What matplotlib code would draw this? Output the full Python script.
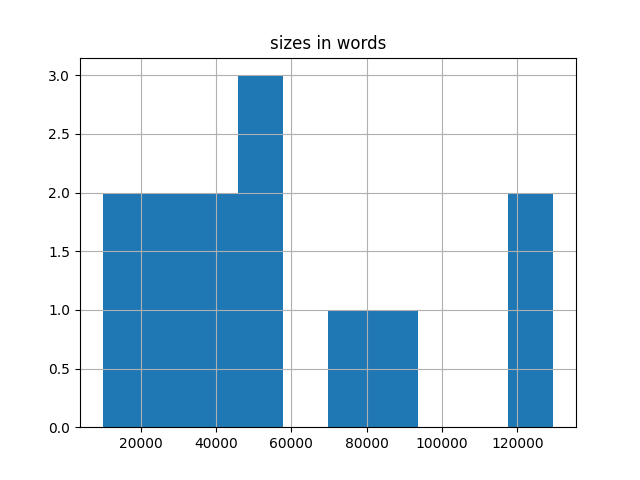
import pandas as pd
import matplotlib
matplotlib.use("Agg")
import matplotlib.pyplot as plt

# word counts per document
sizes = [9900, 15000, 25000, 30000, 38000, 42000, 47000, 50000, 55000,
         75000, 88000, 125000, 129600]

s = pd.Series(sizes, name="sizes")

fig, ax = plt.subplots(figsize=(6.4, 4.8), dpi=100)
s.hist(ax=ax, bins=10)
ax.set_title("sizes in words")

plt.savefig("out.png")
